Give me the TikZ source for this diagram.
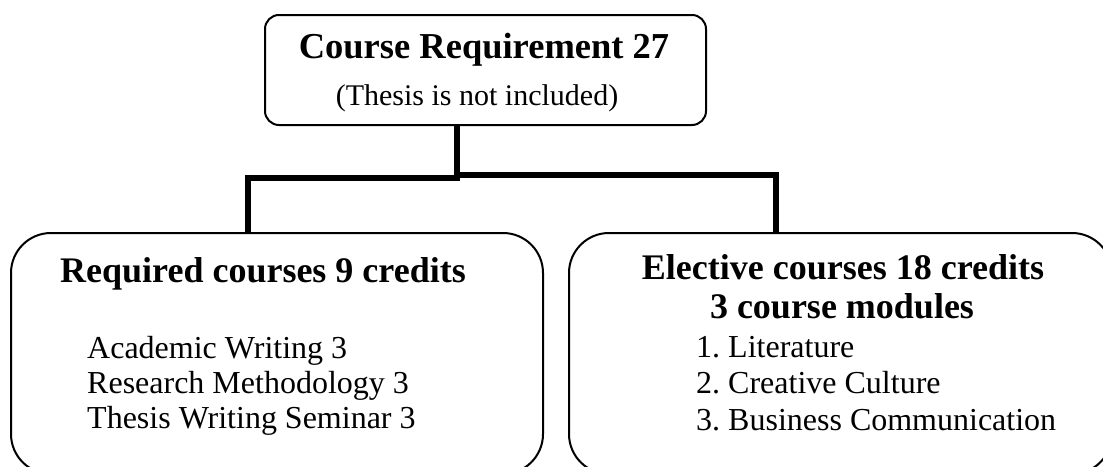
\documentclass[tikz,border=0pt]{standalone}
\usepackage{fontspec}
\setmainfont{Liberation Serif}
\frenchspacing
\begin{document}
\begin{tikzpicture}[x=1pt,y=-1pt,
  box/.style={draw, line width=2pt, inner sep=0pt, outer sep=0pt},
  conn/.style={line width=6pt},
  titleb/.style={inner sep=0pt, anchor=base, font=\fontsize{36.5}{40}\selectfont\bfseries},
  bigb/.style={inner sep=0pt, anchor=base, font=\fontsize{36}{40}\selectfont\bfseries},
  bigbl/.style={inner sep=0pt, anchor=base west, font=\fontsize{36}{40}\selectfont\bfseries},
  sub/.style={inner sep=0pt, anchor=base, font=\fontsize{30}{34}\selectfont},
  reg/.style={inner sep=0pt, anchor=base west, font=\fontsize{32}{36}\selectfont},
]
\useasboundingbox (0,0) rectangle (1103,466);
% boxes
\node[box, rounded corners=14pt, minimum width=441pt, minimum height=110pt] (top) at (485.5,70) {};
\node[box, rounded corners=40pt, minimum width=532pt, minimum height=241pt] (req) at (277,353.5) {};
\node[box, rounded corners=40pt, minimum width=543pt, minimum height=241pt] (ele) at (840.5,353.5) {};
% texts
\node[titleb] (t1) at (484,58) {Course Requirement 27};
\node[sub] (t2) at (477,105) {(Thesis is not included)};
\node[bigbl] (r1) at (60,282) {Required courses 9 credits};
\node[reg] (r2) at (87,358) {Academic Writing 3};
\node[reg] (r3) at (87,393) {Research Methodology 3};
\node[reg] (r4) at (87,428) {Thesis Writing Seminar 3};
\node[bigb] (e1) at (843,279) {Elective courses 18 credits};
\node[bigb] (e2) at (842,318) {3 course modules};
\node[reg] (e3) at (696,357) {1. Literature};
\node[reg] (e4) at (696,393) {2. Creative Culture};
\node[reg] (e5) at (696,430) {3. Business Communication};
% connectors
\coordinate (midL) at (457,178);
\coordinate (midR) at (457,175);
\coordinate (lx) at (248,0);
\coordinate (rx) at (776,0);
\draw[conn] (top.south -| midL) -- ([yshift=3pt]midL);
\draw[conn] ([xshift=3pt]midL) -| (req.north -| lx);
\draw[conn] ([xshift=-3pt]midR) -| (ele.north -| rx);
\end{tikzpicture}
\end{document}
